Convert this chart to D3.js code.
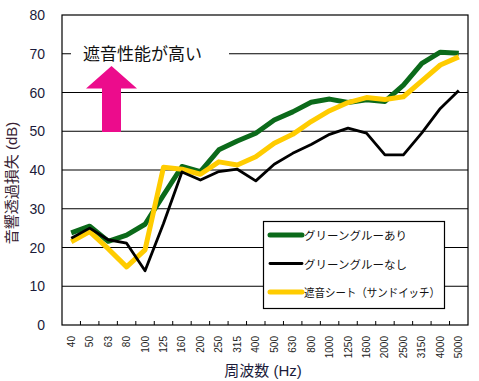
<!DOCTYPE html>
<html>
<head>
<meta charset="utf-8">
<script src="https://cdn.jsdelivr.net/npm/d3@7"></script>
<style>
  body { margin: 0; background: #fff; }
  text { font-family: "Liberation Sans", "Noto Sans CJK JP", sans-serif; }
</style>
</head>
<body>
<div id="chart"></div>
<script>
// data
var freqs = ["40","50","63","80","100","125","160","200","250","315","400","500","630","800","1000","1250","1600","2000","2500","3150","4000","5000"];
var greenVals = [23.8,25.5,21.6,23.2,26,33.5,40.9,39.6,45.2,47.5,49.5,52.9,55,57.5,58.3,57.4,58.1,57.7,61.9,67.5,70.4,70.1];
var blackVals = [22.4,25,22,21.1,14,26.2,39.5,37.4,39.6,40.2,37.2,41.5,44.3,46.6,49.2,50.8,49.5,43.9,43.9,49.6,55.9,60.5];
var yellowVals = [21.5,24.1,19.7,15,19.4,40.7,40.2,38.9,42.1,41.3,43.4,46.9,49.2,52.5,55.3,57.4,58.7,58.2,58.9,63,67.1,69.2];
var yTicks = [0,10,20,30,40,50,60,70,80];
var seriesNames = ["グリーングルーあり","グリーングルーなし","遮音シート（サンドイッチ）"];

var w = 479, h = 381;
var pLeft = 62, pTop = 15, pRight = 468, pBottom = 325;

var svg = d3.select("#chart").append("svg")
    .attr("width", w).attr("height", h);

//scales
var x = d3.scaleBand().domain(freqs).range([pLeft, pRight]);
var y = d3.scaleLinear().domain([0, 80]).range([pBottom, pTop]);

// gridlines
svg.append("g").selectAll("line")
   .data(yTicks.filter(function(d){ return d > 0 && d < 80; }))
   .enter().append("line")
   .attr("x1", pLeft).attr("x2", pRight)
   .attr("y1", function(d){ return y(d); })
   .attr("y2", function(d){ return y(d); })
   .attr("stroke", "#000").attr("stroke-width", 1.2);

// plot border
svg.append("rect")
   .attr("x", pLeft).attr("y", pTop)
   .attr("width", pRight - pLeft).attr("height", pBottom - pTop)
   .attr("fill", "none").attr("stroke", "#000").attr("stroke-width", 1.2);

// y axis labels
svg.append("g").selectAll("text")
   .data(yTicks).enter().append("text")
   .attr("x", 45).attr("y", function(d){ return y(d) + 5; })
   .attr("text-anchor", "end")
   .attr("font-size", 14).attr("fill", "#1b1b3a")
   .text(function(d){ return d; });

// x ticks (inside)
svg.append("g").selectAll("line")
   .data(freqs.slice(1)).enter().append("line")
   .attr("x1", function(d){ return x(d); })
   .attr("x2", function(d){ return x(d); })
   .attr("y1", pBottom).attr("y2", pBottom - 4)
   .attr("stroke", "#000");

// x labels rotated
svg.append("g").selectAll("text")
   .data(freqs).enter().append("text")
   .attr("transform", function(d){ return "translate(" + (x(d) + x.bandwidth()/2 + 3.5) + ",336) rotate(-90)"; })
   .attr("text-anchor", "end")
   .attr("font-size", 10).attr("fill", "#222")
   .text(function(d){ return d; });

// axis titles
svg.append("text")
   .attr("x", 263).attr("y", 376)
   .attr("text-anchor", "middle")
   .attr("font-size", 15).attr("fill", "#1b1b3a")
   .text("周波数 (Hz)");

svg.append("text")
   .attr("transform", "translate(17,183) rotate(-90)")
   .attr("text-anchor", "middle")
   .attr("font-size", 15).attr("fill", "#3a1f35")
   .text("音響透過損失 (dB)");

// annotation
svg.append("rect")
   .attr("x", 71).attr("y", 44).attr("width", 158).attr("height", 20)
   .attr("fill", "#fff");
svg.append("text")
   .attr("x", 83).attr("y", 60)
   .attr("font-size", 17).attr("fill", "#111")
   .text("遮音性能が高い");

svg.append("path")
   .attr("d", "M111.5,66 L137,88.5 L121,88.5 L121,132 L102,132 L102,88.5 L86,88.5 Z")
   .attr("fill", "#EC0C8C");

// lines
var line = d3.line()
   .x(function(d, i){ return x(freqs[i]) + x.bandwidth()/2; })
   .y(function(d){ return y(d); });

var series = [
  {vals: greenVals, color: "#0b6a1a", width: 5},
  {vals: blackVals, color: "#000", width: 2.8},
  {vals: yellowVals, color: "#FFCC00", width: 5}
];

svg.append("path").datum(greenVals).attr("d", line)
   .attr("fill", "none").attr("stroke", series[0].color).attr("stroke-width", series[0].width).attr("stroke-linejoin", "round");
svg.append("path").datum(yellowVals).attr("d", line)
   .attr("fill", "none").attr("stroke", series[2].color).attr("stroke-width", series[2].width).attr("stroke-linejoin", "round");
svg.append("path").datum(blackVals).attr("d", line)
   .attr("fill", "none").attr("stroke", series[1].color).attr("stroke-width", series[1].width).attr("stroke-linejoin", "round");

// legend
var lg = svg.append("g");
lg.append("rect")
  .attr("x", 263.5).attr("y", 221.5).attr("width", 181).attr("height", 87)
  .attr("fill", "#fff").attr("stroke", "#000").attr("stroke-width", 1.2);
seriesNames.forEach(function(name, i){
  var yy = 235 + i * 28.5;
  lg.append("line")
    .attr("x1", 270).attr("x2", 302).attr("y1", yy).attr("y2", yy)
    .attr("stroke", series[i].color).attr("stroke-width", series[i].width)
    .attr("stroke-linecap", "round");
  var t = lg.append("text")
    .attr("x", 304).attr("y", yy + 5)
    .attr("font-size", 11.5).attr("fill", "#111")
    .text(name);
  if (i == 2) t.attr("textLength", 136).attr("lengthAdjust", "spacingAndGlyphs");
});
</script>
</body>
</html>
